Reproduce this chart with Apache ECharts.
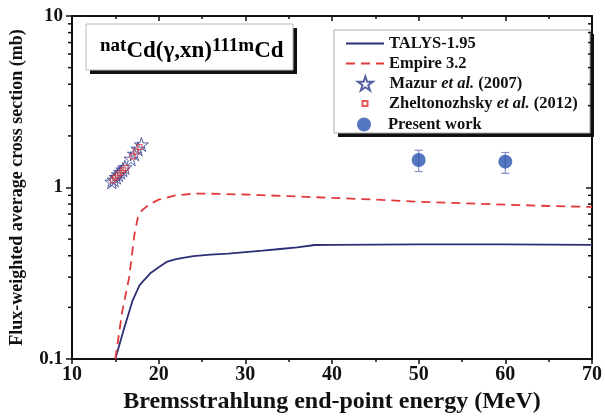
<!DOCTYPE html>
<html>
<head>
<meta charset="utf-8">
<script src="https://cdn.jsdelivr.net/npm/echarts@6/dist/echarts.min.js"></script>
<style>
  html, body { margin: 0; padding: 0; background: #fff; }
  #graph { width: 605px; height: 419px; }
</style>
</head>
<body>
<div id="graph"></div>
<script>
// 数据部分
var talysX = [15, 16, 17, 17.8, 19, 20, 21, 22, 24, 26, 28, 30, 32, 34, 36, 38, 40, 45, 50, 55, 60, 65, 70];
var talysY = [0.1, 0.15, 0.22, 0.27, 0.315, 0.343, 0.37, 0.382, 0.398, 0.406, 0.412, 0.42, 0.428, 0.438, 0.448, 0.462, 0.463, 0.465, 0.466, 0.466, 0.466, 0.465, 0.463];
var empireX = [15, 15.8, 16.6, 17.2, 17.6, 18.1, 19, 20, 22, 24, 26, 30, 35, 40, 45, 50, 55, 60, 65, 70];
var empireY = [0.1, 0.19, 0.30, 0.53, 0.67, 0.74, 0.8, 0.85, 0.9, 0.92, 0.92, 0.91, 0.89, 0.87, 0.85, 0.825, 0.81, 0.795, 0.78, 0.77];
var mazurX = [14.6, 14.85, 15.1, 15.35, 15.6, 15.85, 16.1, 16.8, 17.2, 17.6, 18.0];
var mazurY = [1.08, 1.11, 1.15, 1.19, 1.23, 1.27, 1.31, 1.47, 1.57, 1.68, 1.78];
var zhelX = [14.7, 15.0, 15.3, 15.6, 15.9, 16.2, 17.0, 17.4, 17.8];
var zhelY = [1.1, 1.14, 1.18, 1.22, 1.26, 1.3, 1.52, 1.62, 1.72];
var presentX = [50, 60];
var presentY = [1.446, 1.415];
var presentLow = [1.24, 1.21];
var presentHigh = [1.65, 1.60];
// Y轴小刻度 (对数)
var minorTicksY = [0.2, 0.3, 0.4, 0.5, 0.6, 0.7, 0.8, 0.9, 2, 3, 4, 5, 6, 7, 8, 9];

function zip(a, b) {
  var out = [];
  for (var i = 0; i < a.length; i++) out.push([a[i], b[i]]);
  return out;
}

var FONT = 'Liberation Serif';
var starPath = 'path://M50,2 L61.8,37.6 L99,37.6 L69,59.6 L80.4,95 L50,73 L19.6,95 L31,59.6 L1,37.6 L38.2,37.6 Z';
var squarePath = 'path://M0,0 L10,0 L10,10 L0,10 Z';

var legendRich = {
  b: { fontFamily: FONT, fontWeight: 'bold', fontSize: 16.5, color: '#111', lineHeight: 16 },
  i: { fontFamily: FONT, fontWeight: 'bold', fontStyle: 'italic', fontSize: 16.5, color: '#111', lineHeight: 16 }
};
function legendFmt(name) {
  var k = name.indexOf('et al.');
  if (k < 0) return '{b|' + name + '}';
  return '{b|' + name.slice(0, k) + '}{i|et al.}{b|' + name.slice(k + 6) + '}';
}
// 图例: 图标中心约在 x=364, 文字从 x=388 开始
function makeLegend(name, top, h, isLine) {
  var lg = {
    data: [name], left: isLine ? 345 : 345 + 19 - h / 2, top: top, padding: 0,
    itemWidth: 38, itemHeight: h, selectedMode: false,
    formatter: legendFmt,
    textStyle: { rich: legendRich }
  };
  if (isLine) lg.itemStyle = { color: 'rgba(0,0,0,0)', borderWidth: 0, opacity: 0 };
  return lg;
}

var myChart = echarts.init(document.getElementById('graph'));
var option = {
  animation: false,
  backgroundColor: '#fff',
  grid: { left: 72, right: 9, top: 16, bottom: 56 },
  legend: [
    makeLegend('TALYS-1.95', 35, 14, true),
    makeLegend('Empire 3.2', 55, 14, true),
    makeLegend('Mazur et al. (2007)', 75, 14, false),
    makeLegend('Zheltonozhsky et al. (2012)', 95, 5, false),
    makeLegend('Present work', 116, 14, false)
  ],
  graphic: [
    // 标题框
    { type: 'rect', z: 10, shape: { x: 90, y: 28, width: 207, height: 46 }, style: { fill: '#111' } },
    { type: 'rect', z: 11, shape: { x: 86, y: 24, width: 207, height: 46 }, style: { fill: '#fff', stroke: '#bbb', lineWidth: 1 } },
    {
      type: 'text', z: 12, left: 100, top: 37,
      style: {
        text: '{s|nat}{c|Cd(γ,xn)}{s|111m}{c|Cd}',
        rich: {
          s: { fontFamily: FONT, fontWeight: 'bold', fontSize: 19, color: '#111', verticalAlign: 'top', lineHeight: 26 },
          c: { fontFamily: FONT, fontWeight: 'bold', fontSize: 23, color: '#111', verticalAlign: 'bottom', lineHeight: 26 }
        }
      }
    },
    // 图例框
    { type: 'rect', z: 1, shape: { x: 338, y: 34, width: 256, height: 103 }, style: { fill: '#111' } },
    { type: 'rect', z: 2, shape: { x: 334, y: 30, width: 256, height: 103 }, style: { fill: '#fff', stroke: '#aaa', lineWidth: 1 } }
  ],
  xAxis: [
    {
      type: 'value', min: 10, max: 70, interval: 10,
      name: 'Bremsstrahlung end-point energy (MeV)',
      nameLocation: 'middle', nameGap: 31,
      nameTextStyle: { fontFamily: FONT, fontWeight: 'bold', fontSize: 24, color: '#111' },
      axisLine: { onZero: false, lineStyle: { color: '#111', width: 2 } },
      axisTick: { inside: false, length: 5, lineStyle: { color: '#111', width: 1.5 } },
      minorTick: { show: true, splitNumber: 2, length: 3, lineStyle: { color: '#111', width: 1.5 } },
      axisLabel: { margin: 6, fontFamily: FONT, fontWeight: 'bold', fontSize: 20, color: '#111' },
      splitLine: { show: false }
    },
    {
      type: 'value', min: 10, max: 70, interval: 10, position: 'top',
      axisLine: { onZero: false, lineStyle: { color: '#111', width: 2 } },
      axisTick: { inside: true, length: 5, lineStyle: { color: '#111', width: 1.5 } },
      minorTick: { show: true, splitNumber: 2, length: 3, lineStyle: { color: '#111', width: 1.5 } },
      axisLabel: { show: false },
      splitLine: { show: false }
    }
  ],
  yAxis: [
    {
      type: 'log', logBase: 10, min: 0.1, max: 10,
      name: 'Flux-weighted average cross section (mb)',
      nameLocation: 'middle', nameGap: 46,
      nameTextStyle: { fontFamily: FONT, fontWeight: 'bold', fontSize: 18, color: '#111' },
      axisLine: { onZero: false, lineStyle: { color: '#111', width: 2 } },
      axisTick: { inside: false, length: 6, lineStyle: { color: '#111', width: 1.5 } },
      axisLabel: { margin: 9, fontFamily: FONT, fontWeight: 'bold', fontSize: 19, color: '#111' },
      splitLine: { show: false }
    },
    {
      type: 'log', logBase: 10, min: 0.1, max: 10, position: 'right',
      axisLine: { onZero: false, lineStyle: { color: '#111', width: 2 } },
      axisTick: { inside: true, length: 6, lineStyle: { color: '#111', width: 1.5 } },
      axisLabel: { show: false },
      splitLine: { show: false }
    }
  ],
  series: [
    {
      name: 'TALYS-1.95', type: 'line', data: zip(talysX, talysY),
      symbol: 'none', showSymbol: false, z: 3,
      lineStyle: { color: '#2c2f78', width: 1.8 },
      itemStyle: { color: '#2c2f78' }
    },
    {
      name: 'Empire 3.2', type: 'line', data: zip(empireX, empireY),
      symbol: 'none', showSymbol: false, z: 3,
      lineStyle: { color: '#e23a3c', width: 1.8, type: [9, 6] },
      itemStyle: { color: '#e23a3c' }
    },
    {
      name: 'Mazur et al. (2007)', type: 'scatter', data: zip(mazurX, mazurY),
      symbol: starPath, symbolSize: 14, z: 4,
      itemStyle: { color: 'rgba(255,255,255,0)', borderColor: '#2e3a8c', borderWidth: 1 }
    },
    {
      name: 'Zheltonozhsky et al. (2012)', type: 'scatter', data: zip(zhelX, zhelY),
      symbol: squarePath, symbolSize: 5, z: 5,
      itemStyle: { color: 'rgba(255,255,255,0.2)', borderColor: '#e0302f', borderWidth: 1 }
    },
    {
      // 误差棒
      type: 'custom', z: 4, silent: true,
      data: presentX.map(function (x, i) { return [x, presentLow[i], presentHigh[i]]; }),
      renderItem: function (params, api) {
        var lo = api.coord([api.value(0), api.value(1)]);
        var hi = api.coord([api.value(0), api.value(2)]);
        var st = { stroke: '#8a90c4', lineWidth: 1.2 };
        return {
          type: 'group',
          children: [
            { type: 'line', shape: { x1: lo[0], y1: lo[1], x2: hi[0], y2: hi[1] }, style: st },
            { type: 'line', shape: { x1: lo[0] - 4, y1: lo[1], x2: lo[0] + 4, y2: lo[1] }, style: st },
            { type: 'line', shape: { x1: hi[0] - 4, y1: hi[1], x2: hi[0] + 4, y2: hi[1] }, style: st }
          ]
        };
      }
    },
    {
      name: 'Present work', type: 'scatter', data: zip(presentX, presentY),
      symbol: 'circle', symbolSize: 14, z: 6,
      itemStyle: { color: '#2a55b0' }
    },
    {
      // 对数轴小刻度
      type: 'custom', z: 7, silent: true, clip: false,
      data: minorTicksY,
      renderItem: function (params, api) {
        var l = api.coord([10, api.value(0)]);
        var r = api.coord([70, api.value(0)]);
        var st = { stroke: '#111', lineWidth: 1.5 };
        return {
          type: 'group',
          children: [
            { type: 'line', shape: { x1: l[0] - 4, y1: l[1], x2: l[0], y2: l[1] }, style: st },
            { type: 'line', shape: { x1: r[0] - 4, y1: r[1], x2: r[0], y2: r[1] }, style: st }
          ]
        };
      }
    }
  ]
};
myChart.setOption(option);
window.addEventListener('resize', function () {
  myChart.resize();
});
</script>
</body>
</html>
